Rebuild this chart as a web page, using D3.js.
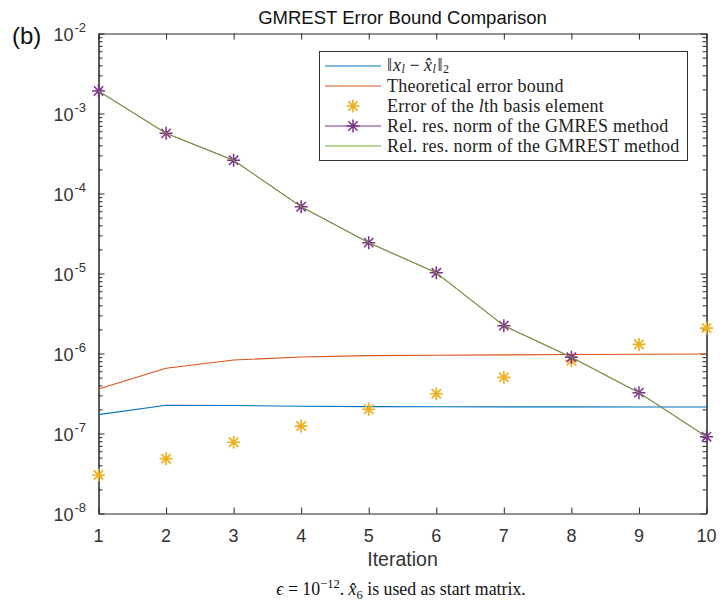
<!DOCTYPE html>
<html>
<head>
<meta charset="utf-8">
<script src="https://cdn.jsdelivr.net/npm/d3@7"></script>
<style>
  body { margin: 0; background: #fff; }
  svg { display: block; }
</style>
</head>
<body>
<svg id="chart" width="728" height="612"></svg>
<script>
// Iteration index l and the quantities tracked at each step
const iterations = [1, 2, 3, 4, 5, 6, 7, 8, 9, 10];
const approxError = [1.72e-7, 2.25e-7, 2.24e-7, 2.19e-7, 2.17e-7, 2.16e-7, 2.15e-7, 2.15e-7, 2.14e-7, 2.14e-7];
const theoreticalBound = [3.6e-7, 6.53e-7, 8.3e-7, 9.04e-7, 9.4e-7, 9.5e-7, 9.6e-7, 9.7e-7, 9.8e-7, 9.86e-7];
const basisError = [3.03e-8, 4.84e-8, 7.77e-8, 1.24e-7, 2.01e-7, 3.14e-7, 5.04e-7, 8.13e-7, 1.30e-6, 2.08e-6];
const gmresResidual = [1.91e-3, 5.65e-4, 2.6e-4, 6.84e-5, 2.43e-5, 1.02e-5, 2.23e-6, 8.96e-7, 3.24e-7, 9.12e-8];
const gmrestResidual = [1.91e-3, 5.65e-4, 2.6e-4, 6.84e-5, 2.43e-5, 1.02e-5, 2.23e-6, 8.96e-7, 3.24e-7, 9.12e-8];
const yExponents = [-2, -3, -4, -5, -6, -7, -8];
const xTicks = [1, 2, 3, 4, 5, 6, 7, 8, 9, 10];

const colors = {
  blue: "#0072BD",
  orange: "#D95319",
  yellow: "#EDB120",
  purple: "#7E2F8E",
  green: "#77AC30",
  axis: "#262626"
};

const svg = d3.select("#chart");
const plot = { left: 98.5, right: 706.5, top: 33.5, bottom: 513.5 };

const x = d3.scaleLinear().domain([1, 10]).range([plot.left, plot.right]);
const y = d3.scaleLog().domain([1e-8, 1e-2]).range([plot.bottom, plot.top]);

const majorY = yExponents.map(e => Math.pow(10, e));
const minorY = [];
for (let e = -8; e < -2; e++) {
  for (let m = 2; m <= 9; m++) minorY.push(m * Math.pow(10, e));
}

// ---- axes (ticks point inward, box on) ----
function styleAxis(g) {
  g.select(".domain").attr("stroke", colors.axis).attr("stroke-width", 1);
  g.selectAll(".tick line").attr("stroke", colors.axis).attr("stroke-width", 1);
  g.selectAll(".tick text").remove();
}

svg.append("g").attr("transform", `translate(0,${plot.bottom})`)
  .call(d3.axisBottom(x).tickValues(xTicks).tickSize(-6).tickSizeOuter(0).tickFormat(""))
  .call(styleAxis);
svg.append("g").attr("transform", `translate(0,${plot.top})`)
  .call(d3.axisTop(x).tickValues(xTicks).tickSize(-6).tickSizeOuter(0).tickFormat(""))
  .call(styleAxis);
svg.append("g").attr("transform", `translate(${plot.left},0)`)
  .call(d3.axisLeft(y).tickValues(majorY).tickSize(-6).tickSizeOuter(0).tickFormat(""))
  .call(styleAxis);
svg.append("g").attr("transform", `translate(${plot.left},0)`)
  .call(d3.axisLeft(y).tickValues(minorY).tickSize(-4).tickSizeOuter(0).tickFormat(""))
  .call(styleAxis);
svg.append("g").attr("transform", `translate(${plot.right},0)`)
  .call(d3.axisRight(y).tickValues(majorY).tickSize(-6).tickSizeOuter(0).tickFormat(""))
  .call(styleAxis);
svg.append("g").attr("transform", `translate(${plot.right},0)`)
  .call(d3.axisRight(y).tickValues(minorY).tickSize(-4).tickSizeOuter(0).tickFormat(""))
  .call(styleAxis);

const sans = "'Liberation Sans', Arial, Helvetica, sans-serif";
const serif = "'Liberation Serif', 'Times New Roman', serif";

// x tick labels
svg.append("g").selectAll("text").data(xTicks).join("text")
  .attr("x", d => x(d)).attr("y", plot.bottom + 28)
  .attr("text-anchor", "middle")
  .attr("font-family", sans).attr("font-size", 18).attr("fill", "#333")
  .text(d => d);

// y tick labels as 10^e
const yLab = svg.append("g").selectAll("text").data(yExponents).join("text")
  .attr("x", plot.left - 45).attr("y", d => y(Math.pow(10, d)) + 7)
  .attr("font-family", sans).attr("font-size", 18).attr("fill", "#333");
yLab.append("tspan").text("10");
yLab.append("tspan").attr("dx", 1).attr("dy", -9).attr("font-size", 13).text(d => d);

// axis label and title
svg.append("text").attr("x", (plot.left + plot.right) / 2).attr("y", plot.bottom + 52)
  .attr("text-anchor", "middle").attr("font-family", sans).attr("font-size", 19.5)
  .attr("fill", "#333").text("Iteration");
svg.append("text").attr("x", (plot.left + plot.right) / 2).attr("y", 24)
  .attr("text-anchor", "middle").attr("font-family", sans).attr("font-size", 18.5)
  .attr("fill", "#111").text("GMREST Error Bound Comparison");
svg.append("text").attr("x", 12).attr("y", 44)
  .attr("font-family", sans).attr("font-size", 24).attr("fill", "#111").text("(b)");

// ---- series ----
const line = d3.line().x((d, i) => x(iterations[i])).y(d => y(d));

function starPath(s) {
  const k = s * 0.72;
  return `M${-s},0L${s},0M0,${-s}L0,${s}M${-k},${-k}L${k},${k}M${-k},${k}L${k},${-k}`;
}

svg.append("path").datum(approxError).attr("d", line)
  .attr("fill", "none").attr("stroke", colors.blue).attr("stroke-width", 1.1);
svg.append("path").datum(theoreticalBound).attr("d", line)
  .attr("fill", "none").attr("stroke", colors.orange).attr("stroke-width", 1.1);

svg.append("g").selectAll("path").data(basisError).join("path")
  .attr("transform", (d, i) => `translate(${x(iterations[i])},${y(d)})`)
  .attr("d", starPath(6.5)).attr("fill", "none")
  .attr("stroke", colors.yellow).attr("stroke-width", 1.7);

svg.append("path").datum(gmresResidual).attr("d", line)
  .attr("fill", "none").attr("stroke", colors.purple).attr("stroke-width", 1);
svg.append("g").selectAll("path").data(gmresResidual).join("path")
  .attr("transform", (d, i) => `translate(${x(iterations[i])},${y(d)})`)
  .attr("d", starPath(6.5)).attr("fill", "none")
  .attr("stroke", colors.purple).attr("stroke-width", 1.5);
svg.append("path").datum(gmrestResidual).attr("d", line)
  .attr("fill", "none").attr("stroke", colors.green).attr("stroke-opacity", 0.88)
  .attr("stroke-width", 1.1);

// ---- legend ----
const legend = svg.append("g");
legend.append("rect").attr("x", 319.5).attr("y", 51.5).attr("width", 368).attr("height", 109)
  .attr("fill", "#fff").attr("stroke", "#333").attr("stroke-width", 1);

const rows = [
  { kind: "line", color: colors.blue },
  { kind: "line", color: colors.orange },
  { kind: "star", color: colors.yellow },
  { kind: "both", color: colors.purple },
  { kind: "line", color: colors.green }
];
const rowY = i => 66 + i * 20;
rows.forEach((r, i) => {
  const yy = rowY(i);
  if (r.kind !== "star") {
    legend.append("line").attr("x1", 325).attr("x2", 381).attr("y1", yy).attr("y2", yy)
      .attr("stroke", r.color).attr("stroke-width", 1.1);
  }
  if (r.kind !== "line") {
    legend.append("path").attr("transform", `translate(353,${yy})`).attr("d", starPath(6.5))
      .attr("fill", "none").attr("stroke", r.color).attr("stroke-width", r.kind === "star" ? 1.7 : 1.5);
  }
});

function legendText(i) {
  return legend.append("text").attr("x", 387).attr("y", rowY(i) + 5.5)
    .attr("font-family", serif).attr("font-size", 18).attr("letter-spacing", 0.25)
    .attr("fill", "#222");
}
// ‖x_l − x̂_l‖_2 as a single line of math
const t0 = legendText(0).attr("y", rowY(0) + 4.5).attr("letter-spacing", 0);
t0.append("tspan").text("\u2016");
t0.append("tspan").attr("dx", 1).attr("font-style", "italic").text("x");
t0.append("tspan").attr("dx", 0.5).attr("font-style", "italic").attr("font-size", 12).attr("dy", 2.5).text("l");
t0.append("tspan").attr("dy", -2.5).text(" \u2212 ");
t0.append("tspan").attr("font-style", "italic").text("x\u0302");
t0.append("tspan").attr("dx", 0.5).attr("font-style", "italic").attr("font-size", 12).attr("dy", 2.5).text("l");
t0.append("tspan").attr("dx", 1.5).attr("dy", -2.5).text("\u2016");
t0.append("tspan").attr("dx", 0.5).attr("font-size", 12).attr("dy", 2.5).text("2");

legendText(1).text("Theoretical error bound");
const t2 = legendText(2);
t2.append("tspan").text("Error of the ");
t2.append("tspan").attr("font-style", "italic").text("l");
t2.append("tspan").text("th basis element");
legendText(3).text("Rel. res. norm of the GMRES method");
legendText(4).text("Rel. res. norm of the GMREST method");

// ---- caption ----
const cap = svg.append("text").attr("x", 401).attr("y", 595).attr("text-anchor", "middle")
  .attr("font-family", serif).attr("font-size", 17.8).attr("fill", "#111");
cap.append("tspan").attr("font-style", "italic").text("\u03f5");
cap.append("tspan").text(" = 10");
cap.append("tspan").attr("font-size", 12.5).attr("dy", -7).text("\u221212");
cap.append("tspan").attr("dy", 7).text(". ");
cap.append("tspan").attr("font-style", "italic").text("x\u0302");
cap.append("tspan").attr("font-size", 12.5).attr("dy", 4).text("6");
cap.append("tspan").attr("dy", -4).text(" is used as start matrix.");
</script>
</body>
</html>
